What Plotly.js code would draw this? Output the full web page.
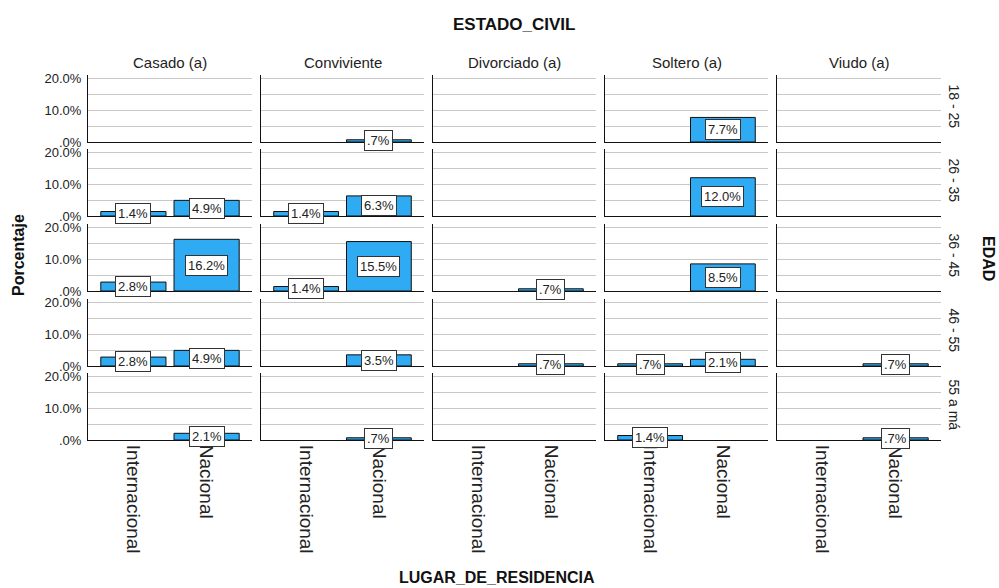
<!DOCTYPE html>
<html>
<head>
<meta charset="utf-8">
<script src="https://cdn.plot.ly/plotly-3.0.1.min.js"></script>
<style>html,body{margin:0;padding:0;background:#fff;}#chart{width:999px;height:588px;}</style>
</head>
<body>
<div id="chart"></div>
<script>
// ---- data ----
const categories = ['Internacional', 'Nacional'];
const estadoCivil = ['Casado (a)', 'Conviviente', 'Divorciado (a)', 'Soltero (a)', 'Viudo (a)'];
const edad = ['18 - 25', '26 - 35', '36 - 45', '46 - 55', '55 a má'];
// values per estado civil, one entry per edad row (null = no bar)
const casadoInternacional      = [null, 1.4, 2.8, 2.8, null];
const casadoNacional           = [null, 4.9, 16.2, 4.9, 2.1];
const convivienteInternacional = [null, 1.4, 1.4, null, null];
const convivienteNacional      = [0.7, 6.3, 15.5, 3.5, 0.7];
const divorciadoInternacional  = [null, null, null, null, null];
const divorciadoNacional       = [null, null, 0.7, 0.7, null];
const solteroInternacional     = [null, null, null, 0.7, 1.4];
const solteroNacional          = [7.7, 12.0, 8.5, 2.1, null];
const viudoInternacional       = [null, null, null, null, null];
const viudoNacional            = [null, null, null, 0.7, 0.7];
const yTickVals = [0, 5, 10, 15, 20];
const yTickText = ['.0%', '', '10.0%', '', '20.0%'];

const internacional = [casadoInternacional, convivienteInternacional, divorciadoInternacional, solteroInternacional, viudoInternacional];
const nacional = [casadoNacional, convivienteNacional, divorciadoNacional, solteroNacional, viudoNacional];

// ---- geometry ----
const FW = 999, FH = 588;
const M = {l: 88, r: 58, t: 75, b: 148};
const W = FW - M.l - M.r, H = FH - M.t - M.b;
const colPx = [[88, 252], [261, 424], [433, 596], [605, 768], [777, 941]];
const rowPx = [[75, 142], [149, 216], [224, 291], [299, 366], [373, 440]];
const px = x => (x - M.l) / W;
const py = y => 1 - (y - M.t) / H;

const FONT = 'Arial, "Liberation Sans", sans-serif';
const BLUE = '#2fabf3';
const fmt = v => v.toFixed(1).replace(/^0/, '') + '%';

const traces = [];
const layout = {
  width: FW, height: FH,
  margin: M,
  paper_bgcolor: '#fff', plot_bgcolor: '#fff',
  showlegend: false,
  font: {family: FONT, color: '#222', size: 13},
  annotations: []
};

for (let r = 0; r < edad.length; r++) {
  for (let c = 0; c < estadoCivil.length; c++) {
    const n = r * 5 + c + 1;
    const xa = 'x' + n, ya = 'y' + n;
    const vals = [internacional[c][r], nacional[c][r]];
    traces.push({
      type: 'bar', x: categories, y: vals,
      xaxis: xa, yaxis: ya,
      width: 0.89,
      marker: {color: BLUE, line: {color: '#111', width: 1}},
      hoverinfo: 'skip'
    });
    layout['xaxis' + n] = {
      domain: [px(colPx[c][0]), px(colPx[c][1])],
      anchor: ya,
      type: 'category',
      categoryorder: 'array', categoryarray: categories,
      range: [-0.62, 1.62],
      showgrid: false, zeroline: false,
      showline: true, linecolor: '#111', linewidth: 1,
      ticks: '',
      showticklabels: r === edad.length - 1,
      tickangle: 90,
      tickfont: {family: FONT, size: 19, color: '#222'},
      fixedrange: true
    };
    layout['yaxis' + n] = {
      domain: [py(rowPx[r][1]), py(rowPx[r][0])],
      anchor: xa,
      range: [0, 21],
      tickvals: yTickVals, ticktext: yTickText,
      showticklabels: c === 0,
      ticks: 'outside', ticklen: 3, tickcolor: 'rgba(0,0,0,0)',
      tickfont: {family: FONT, size: 13, color: '#222'},
      showgrid: true, gridcolor: '#c8c8c8', gridwidth: 1,
      zeroline: false,
      showline: true, linecolor: '#111', linewidth: 1,
      fixedrange: true
    };
    vals.forEach((v, i) => {
      if (v === null) return;
      layout.annotations.push({
        xref: xa, yref: ya, x: categories[i], y: v / 2,
        text: fmt(v), showarrow: false,
        font: {family: FONT, size: 13, color: '#222'},
        bgcolor: '#fff', bordercolor: '#333', borderwidth: 1, borderpad: 2,
        xanchor: 'center', yanchor: 'middle'
      });
    });
  }
}

// column titles
estadoCivil.forEach((t, c) => {
  layout.annotations.push({
    xref: 'paper', yref: 'paper',
    x: px((colPx[c][0] + colPx[c][1]) / 2), y: py(62),
    text: t, showarrow: false, xanchor: 'center', yanchor: 'middle',
    font: {family: FONT, size: 15, color: '#222'}
  });
});
// row labels
edad.forEach((t, r) => {
  layout.annotations.push({
    xref: 'paper', yref: 'paper',
    x: px(954), y: py((rowPx[r][0] + rowPx[r][1]) / 2 - 2),
    text: t, showarrow: false, textangle: 90, xanchor: 'center', yanchor: 'middle',
    font: {family: FONT, size: 14, color: '#222'}
  });
});
// super titles
layout.annotations.push(
  {xref: 'paper', yref: 'paper', x: px(514), y: py(24), text: '<b>ESTADO_CIVIL</b>',
   showarrow: false, xanchor: 'center', yanchor: 'middle', font: {family: FONT, size: 17, color: '#111'}},
  {xref: 'paper', yref: 'paper', x: px(497), y: py(577), text: '<b>LUGAR_DE_RESIDENCIA</b>',
   showarrow: false, xanchor: 'center', yanchor: 'middle', font: {family: FONT, size: 16, color: '#111'}},
  {xref: 'paper', yref: 'paper', x: px(18), y: py(255), text: '<b>Porcentaje</b>', textangle: -90,
   showarrow: false, xanchor: 'center', yanchor: 'middle', font: {family: FONT, size: 16, color: '#111'}},
  {xref: 'paper', yref: 'paper', x: px(989), y: py(258), text: '<b>EDAD</b>', textangle: 90,
   showarrow: false, xanchor: 'center', yanchor: 'middle', font: {family: FONT, size: 16, color: '#111'}}
);

Plotly.newPlot('chart', traces, layout, {staticPlot: true, displayModeBar: false});
</script>
</body>
</html>
